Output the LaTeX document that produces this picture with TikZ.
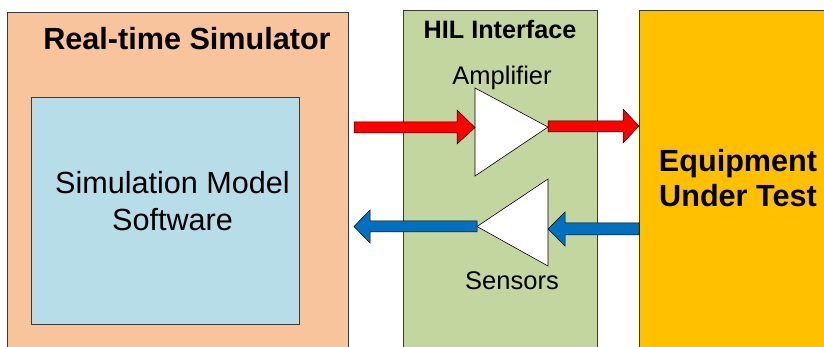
\documentclass[tikz,border=0pt]{standalone}
\usepackage{fontspec}
\setmainfont{Liberation Sans}
\definecolor{simorange}{HTML}{F8C49B}
\definecolor{modelblue}{HTML}{B7DDE8}
\definecolor{hilgreen}{HTML}{C4D6A0}
\definecolor{eutyellow}{HTML}{FFC000}
\definecolor{sigred}{HTML}{FF0000}
\definecolor{sigblue}{HTML}{0070C0}
\definecolor{edge}{HTML}{3A3A3A}
\begin{document}
\begin{tikzpicture}[x=1pt,y=-1pt,
  panel/.style={draw=edge,line width=0.8pt},
  blockarrow/.style={draw=black,line width=0.5pt,line join=miter},
  amp/.style={draw=black,line width=0.6pt,fill=white,line join=miter},
  lbl/.style={inner sep=0pt,anchor=base,font=\fontsize{25.5}{30}\selectfont},
  bigbold/.style={inner sep=0pt,anchor=base,font=\fontsize{30.6}{36}\selectfont\bfseries},
  bigreg/.style={inner sep=0pt,anchor=base,font=\fontsize{30.6}{36}\selectfont},
  hilbold/.style={inner sep=0pt,anchor=base,font=\fontsize{25.2}{30}\selectfont\bfseries}]
\useasboundingbox (0,0) rectangle (824,347);
\clip (0,0) rectangle (824,347);
% panels
\path[panel,fill=simorange] (7,12) rectangle (348,360);
\path[panel,fill=modelblue] (31,97) rectangle (299,324);
\path[panel,fill=hilgreen] (403,10) rectangle (597,360);
\path[panel,fill=eutyellow] (639,10) rectangle (840,360);
% texts
\node[bigbold] (rts) at (187,50) {Real-time Simulator};
\node[bigreg] (sm1) at (172.5,194) {Simulation Model};
\node[bigreg] (sm2) at (172.5,231) {Software};
\node[hilbold] (hil) at (500,39) {HIL Interface};
\node[lbl] (ampl) at (502,85) {Amplifier};
\node[lbl] (sens) at (512,290) {Sensors};
\node[bigbold] (eut1) at (738,172) {Equipment};
\node[bigbold] (eut2) at (738,207) {Under Test};
% amplifier and sensor triangles
\coordinate (ampin) at (475,127.5);
\coordinate (ampout) at (548,127);
\coordinate (senin) at (548,229);
\coordinate (senout) at (477,226.5);
\path[amp] (475,88) -- (475,176) -- (ampout) -- cycle;
\path[amp] (548,179) -- (548,266) -- (senout) -- cycle;
% red arrows
\path[blockarrow,fill=sigred] (354,122) -- (457,122) -- (457,110) -- (ampin) -- (457,144) -- (457,133) -- (354,133) -- cycle;
\path[blockarrow,fill=sigred] (ampout) ++(0,-6) -- (623,121) -- (623,109) -- (639,126) -- (623,143) -- (623,132) -- (548,132) -- cycle;
% blue arrows
\path[blockarrow,fill=sigblue] (senout) ++(0,-5.5) -- (370,221) -- (370,210) -- (354,226.5) -- (370,243) -- (370,232) -- (477,232) -- cycle;
\path[blockarrow,fill=sigblue] (639,223) -- (565,223) -- (565,212) -- (senin) -- (565,246) -- (565,235) -- (639,235) -- cycle;
\end{tikzpicture}
\end{document}
